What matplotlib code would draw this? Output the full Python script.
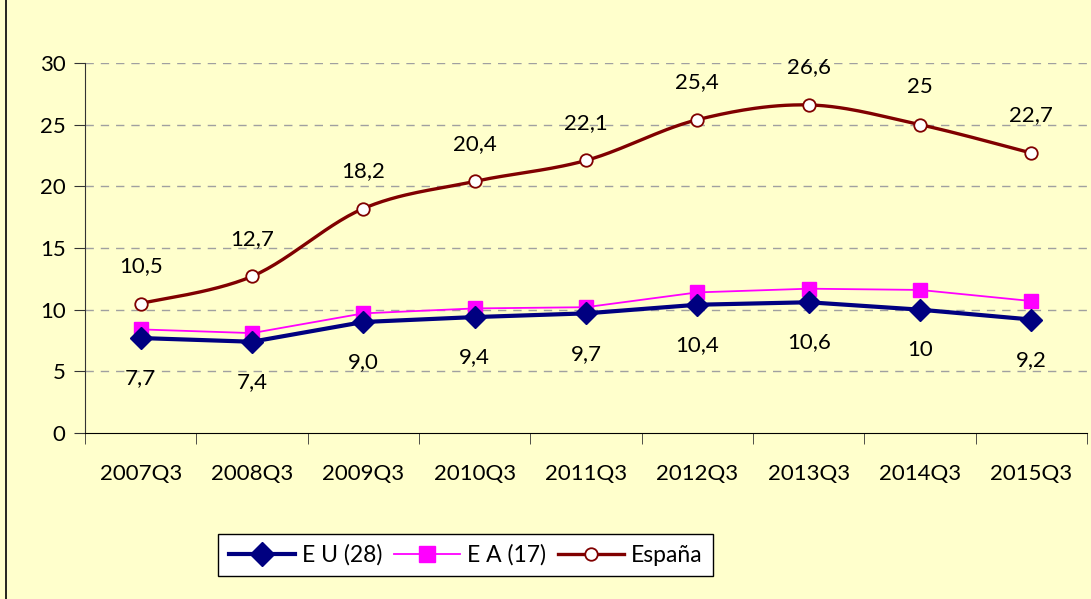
import numpy as np
import matplotlib
matplotlib.use("Agg")
import matplotlib.pyplot as plt
from matplotlib.lines import Line2D

categories = ["2007Q3", "2008Q3", "2009Q3", "2010Q3", "2011Q3",
              "2012Q3", "2013Q3", "2014Q3", "2015Q3"]
eu = [7.7, 7.4, 9.0, 9.4, 9.7, 10.4, 10.6, 10.0, 9.2]
ea = [8.4, 8.1, 9.7, 10.1, 10.2, 11.4, 11.7, 11.6, 10.7]
spain = [10.5, 12.7, 18.2, 20.4, 22.1, 25.4, 26.6, 25.0, 22.7]
eu_labels = ["7,7", "7,4", "9,0", "9,4", "9,7", "10,4", "10,6", "10", "9,2"]
spain_labels = ["10,5", "12,7", "18,2", "20,4", "22,1", "25,4", "26,6", "25", "22,7"]
yticks = [0, 5, 10, 15, 20, 25, 30]

plt.rcParams['font.family'] = ['Lato', 'DejaVu Sans']
BG = "#FFFFCC"
FS = 16
LFS = 16.5

fig = plt.figure(figsize=(10.91, 5.99), dpi=100, facecolor=BG)
ax = fig.add_axes([85/1091, 1-433/599, (1087-85)/1091, (433-63)/599])
ax.set_facecolor(BG)

x = np.arange(len(categories))

def smooth(xs, ys, n=30):
    xs = np.asarray(xs, float); ys = np.asarray(ys, float)
    P = np.column_stack([xs, ys])
    out = []
    for i in range(len(P)-1):
        p0 = P[i-1] if i > 0 else P[i]
        p1 = P[i]; p2 = P[i+1]
        p3 = P[i+2] if i+2 < len(P) else P[i+1]
        c1 = p1 + (p2 - p0)/6
        c2 = p2 - (p3 - p1)/6
        t = np.linspace(0, 1, n)[:, None]
        seg = (1-t)**3*p1 + 3*(1-t)**2*t*c1 + 3*(1-t)*t**2*c2 + t**3*p2
        out.append(seg if i == 0 else seg[1:])
    s = np.vstack(out)
    return s[:, 0], s[:, 1]

sx, sy = smooth(x, spain)
ax.plot(sx, sy, color="#800000", lw=2.4, zorder=3)
ax.plot(x, spain, ls="none", marker="o", ms=9, mfc="white", mec="#800000", mew=1.3, zorder=4)
ax.plot(x, ea, color="#FF00FF", lw=1.3, marker="s", ms=10, mfc="#FF00FF", mec="#FF00FF", zorder=3)
ax.plot(x, eu, color="#000080", lw=3, marker="D", ms=11, mfc="#000080", mec="#000080", zorder=3)

for xi, v, lab in zip(x, spain, spain_labels):
    ax.annotate(lab, (xi, v), xytext=(0, 27), textcoords="offset points",
                ha="center", va="center", fontsize=FS, color="black")
for xi, v, lab in zip(x, eu, eu_labels):
    ax.annotate(lab, (xi, v), xytext=(0, -29), textcoords="offset points",
                ha="center", va="center", fontsize=FS, color="black")

ax.set_xlim(-0.5, len(categories)-0.5)
ax.set_ylim(0, 30)
ax.set_yticks(yticks)
ax.set_yticklabels([str(v) for v in yticks], fontsize=FS)
ax.set_xticks(x)
ax.set_xticklabels(categories, fontsize=FS)
ax.set_xticks(np.arange(len(categories)+1) - 0.5, minor=True)
ax.tick_params(axis="x", which="major", length=0, pad=22)
ax.tick_params(axis="x", which="minor", length=8, direction="out", color="#333333")
ax.tick_params(axis="y", length=8, direction="out", color="#333333", pad=6)
for yv in yticks[1:]:
    ax.axhline(yv, color="#A0A0A0", lw=1, ls=(0, (6, 5)), zorder=1)
for s in ["top", "right"]:
    ax.spines[s].set_visible(False)
ax.spines["left"].set_color("#333333")
ax.spines["bottom"].set_color("#000000")

handles = [
    Line2D([], [], color="#000080", lw=3, marker="D", ms=12, mfc="#000080", mec="#000080"),
    Line2D([], [], color="#FF00FF", lw=1.3, marker="s", ms=11, mfc="#FF00FF", mec="#FF00FF"),
    Line2D([], [], color="#800000", lw=2.4, marker="o", ms=9, mfc="white", mec="#800000", mew=1.3),
]
leg = fig.legend(handles, ["E U (28)", "E A (17)", "España"], loc="center",
                 bbox_to_anchor=(465.5/1091, 1-555/599), ncol=3, fontsize=LFS,
                 frameon=True, fancybox=False, edgecolor="black", facecolor="white",
                 framealpha=1, handlelength=2.9, handletextpad=0.3, columnspacing=0.5,
                 borderpad=0.45, borderaxespad=0)
leg.get_frame().set_linewidth(1)

fig.add_artist(Line2D([6/1091, 6/1091], [0, 1], transform=fig.transFigure, color="black", lw=1.2))

fig.savefig("out.png", dpi=100, facecolor=BG)
